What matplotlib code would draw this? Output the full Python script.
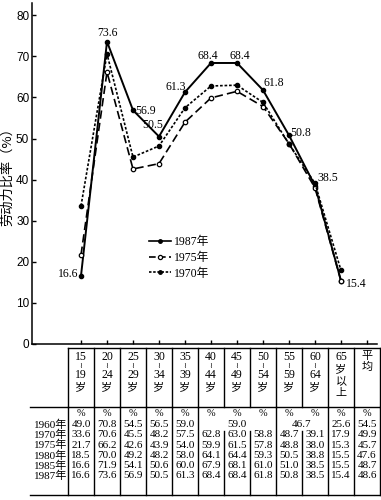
import matplotlib
matplotlib.use('Agg')
import matplotlib.pyplot as plt
from matplotlib.lines import Line2D

# ---------------- data ----------------
age_groups = ['15～19岁', '20～24岁', '25～29岁', '30～34岁', '35～39岁',
              '40～44岁', '45～49岁', '50～54岁', '55～59岁', '60～64岁', '65岁以上']
avg_label = '平均'

rate_1987 = [16.6, 73.6, 56.9, 50.5, 61.3, 68.4, 68.4, 61.8, 50.8, 38.5, 15.4]
rate_1975 = [21.7, 66.2, 42.6, 43.9, 54.0, 59.9, 61.5, 57.8, 48.8, 38.0, 15.3]
rate_1970 = [33.6, 70.6, 45.5, 48.2, 57.5, 62.8, 63.0, 58.8, 48.7, 39.1, 17.9]
rate_1980 = [18.5, 70.0, 49.2, 48.2, 58.0, 64.1, 64.4, 59.3, 50.5, 38.8, 15.5]
rate_1985 = [16.6, 71.9, 54.1, 50.6, 60.0, 67.9, 68.1, 61.0, 51.0, 38.5, 15.5]
# 1960 row has merged cells: (value, first column, last column)
cells_1960 = [(49.0, 0, 0), (70.8, 1, 1), (54.5, 2, 2), (56.5, 3, 3), (59.0, 4, 4),
              (59.0, 5, 7), (46.7, 8, 9), (25.6, 10, 10)]
table_years = ['1960年', '1970年', '1975年', '1980年', '1985年', '1987年']
avg_values = [54.5, 49.9, 45.7, 47.6, 48.7, 48.6]

legend_labels = ['1987年', '1975年', '1970年']
y_label = '劳动力比率（%）'
y_ticks = [0, 10, 20, 30, 40, 50, 60, 70, 80]

SERIF = ['Liberation Serif', 'Noto Sans CJK SC', 'DejaVu Sans']
SANS = ['Liberation Sans', 'DejaVu Sans']
CJK = ['Noto Sans CJK SC', 'DejaVu Sans']

# ---------------- figure ----------------
fig = plt.figure(figsize=(3.81, 5.0), dpi=100)
W, H = 381.0, 500.0
x0_px, step_px = 81.0, 26.0  # pixel position of first category and spacing

# table axes (full figure, x in category units, y in pixels)
tax = fig.add_axes([0, 0, 1, 1])
tax.set_xlim(-x0_px / step_px, (W - x0_px) / step_px)
tax.set_ylim(H, 0)
tax.axis('off')

# main axes
ax_left, ax_right, ax_bot, ax_top = 32.0, 377.0, 344.0, 3.0
ax = fig.add_axes([ax_left / W, 1 - ax_bot / H, (ax_right - ax_left) / W, (ax_bot - ax_top) / H])
ax.patch.set_visible(False)
ax.set_xlim((ax_left - x0_px) / step_px, (ax_right - x0_px) / step_px)
ax.set_ylim(0, 83.0)

x = list(range(len(age_groups)))
ax.plot(x, rate_1987, color='black', lw=1.4, marker='o', ms=3.0,
        mfc='black', mec='black', label=legend_labels[0], zorder=3)
ax.plot(x, rate_1975, color='black', lw=1.2, ls=(0, (5, 2.5)), marker='o', ms=3.2,
        mfc='white', mec='black', mew=0.9, label=legend_labels[1], zorder=3)
ax.plot(x, rate_1970, color='black', lw=1.2, ls=(0, (1.6, 1.1)), marker='o', ms=3.0,
        mfc='black', mec='black', label=legend_labels[2], zorder=3)

# annotations for 1987 values
ann_offsets = [(-3, 2, 'right'), (0, 9, 'center'), (2, -1, 'left'), (-6, 12, 'center'),
               (1, 5, 'right'), (-3, 7, 'center'), (3, 7, 'center'), (0, 7, 'left'),
               (1, 2, 'left'), (2, 8, 'left'), (5, -3, 'left')]
for xi, v, (dx, dy, ha) in zip(x, rate_1987, ann_offsets):
    ax.annotate(f'{v:.1f}', (xi, v), xytext=(dx, dy), textcoords='offset pixels',
                ha=ha, va='center', fontsize=8.5, family=SERIF)

# axes styling
for s in ['top', 'right']:
    ax.spines[s].set_visible(False)
ax.spines['left'].set_linewidth(1.1)
ax.spines['bottom'].set_linewidth(1.1)
ax.set_yticks(y_ticks)
ax.set_yticklabels([str(t) for t in y_ticks], fontsize=8.5, family=SANS)
ax.tick_params(axis='y', direction='in', length=3, width=1, pad=2)
ax.set_xticks(list(range(len(age_groups) + 1)))
ax.set_xticklabels([])
ax.tick_params(axis='x', direction='in', length=3, width=1)
ax.set_ylabel(y_label, fontsize=9.5, family=CJK, labelpad=1)

# legend
handles = [Line2D([], [], color='black', lw=1.2, marker='o', ms=2.5, mfc='black'),
           Line2D([], [], color='black', lw=1.2, ls=(0, (4, 2)), marker='o', ms=3, mfc='white', mew=0.9),
           Line2D([], [], color='black', lw=1.2, ls=(0, (1.5, 1)), marker='o', ms=2.5, mfc='black')]
leg = fig.legend(handles, legend_labels, loc='upper left',
                 bbox_to_anchor=(149 / W, 1 - 236 / H), frameon=False,
                 handlelength=1.9, handletextpad=0.25, labelspacing=0.32,
                 borderpad=0, borderaxespad=0,
                 prop={'family': SERIF, 'size': 8.5})

# ---------------- table ----------------
ncol = len(age_groups) + 1
lw_t = 1.0
TFS = 8.0
head_top, head_bot, tab_bot = 348.0, 407.0, 495.0
left_edge = -0.5
right_edge = ncol - 0.5
tab_left = (30 - x0_px) / step_px
tax.plot([left_edge, right_edge], [head_top, head_top], color='black', lw=lw_t)
tax.plot([tab_left, right_edge], [head_bot, head_bot], color='black', lw=lw_t)
tax.plot([tab_left, right_edge], [tab_bot, tab_bot], color='black', lw=lw_t)
for b in range(ncol + 1):
    xb = b - 0.5
    tax.plot([xb, xb], [head_top, head_bot], color='black', lw=lw_t)
merged_bounds = set()
for v, c0, c1 in cells_1960:
    for c in range(c0, c1):
        merged_bounds.add(c + 0.5)
for b in range(ncol + 1):
    xb = b - 0.5
    y_start = 431.0 if xb in merged_bounds else head_bot
    tax.plot([xb, xb], [y_start, tab_bot], color='black', lw=lw_t)

# header labels
for i, lab in enumerate(age_groups):
    if '～' in lab:
        a, b = lab.rstrip('岁').split('～')
        tax.text(i, 357, a, ha='center', va='center', fontsize=8.5, family=SERIF)
        tax.text(i, 366, '≀', ha='center', va='center', fontsize=5.5, family=['DejaVu Sans'])
        tax.text(i, 375, b, ha='center', va='center', fontsize=8.5, family=SERIF)
        tax.text(i, 387, '岁', ha='center', va='center', fontsize=8, family=CJK)
    else:
        tax.text(i, 357, lab[:2], ha='center', va='center', fontsize=8.5, family=SERIF)
        for k, ch in enumerate(lab[2:]):
            tax.text(i, 369 + 12 * k, ch, ha='center', va='center', fontsize=8, family=CJK)
for k, ch in enumerate(avg_label):
    tax.text(ncol - 1, 356 + 11 * k, ch, ha='center', va='center', fontsize=8, family=CJK)

# % row
pct_y = 413.5
for c in range(ncol):
    tax.text(c, pct_y, '%', ha='center', va='center', fontsize=7.5, family=SERIF)

row_y = [424.5, 434.8, 445.1, 455.4, 465.7, 476.0]
other_rows = [rate_1970, rate_1975, rate_1980, rate_1985, rate_1987]
yr_x = (67 - x0_px) / step_px
for r, yr in enumerate(table_years):
    yy = row_y[r]
    tax.text(yr_x, yy, yr, ha='right', va='center', fontsize=TFS, family=SERIF)
    if r == 0:
        for v, c0, c1 in cells_1960:
            tax.text((c0 + c1) / 2, yy, f'{v:.1f}', ha='center', va='center', fontsize=TFS, family=SERIF)
    else:
        for c, v in enumerate(other_rows[r - 1]):
            tax.text(c, yy, f'{v:.1f}', ha='center', va='center', fontsize=TFS, family=SERIF)
    tax.text(ncol - 1, yy, f'{avg_values[r]:.1f}', ha='center', va='center', fontsize=TFS, family=SERIF)

fig.savefig('out.png', dpi=100)
